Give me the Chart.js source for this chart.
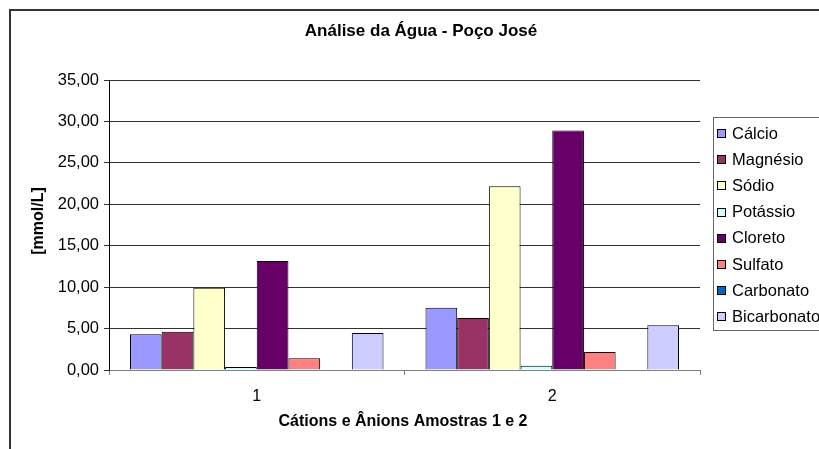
<!DOCTYPE html>
<html>
<head>
<meta charset="utf-8">
<title>Análise da Água - Poço José</title>
<script src="https://cdn.jsdelivr.net/npm/chart.js@4/dist/chart.umd.min.js"></script>
<style>
  html, body { margin: 0; padding: 0; background: #fff; overflow: hidden; }
  canvas { display: block; }
</style>
</head>
<body>
<canvas id="chart" width="819" height="449"></canvas>
<script>
// Amostras (categorias do eixo X)
const amostras = ['1', '2'];

// Íons e suas concentrações em mmol/L, por amostra
const ions = ['Cálcio', 'Magnésio', 'Sódio', 'Potássio', 'Cloreto', 'Sulfato', 'Carbonato', 'Bicarbonato'];
const calcio      = [4.31, 7.52];
const magnesio    = [4.63, 6.27];
const sodio       = [9.94, 22.17];
const potassio    = [0.36, 0.52];
const cloreto     = [13.15, 28.92];
const sulfato     = [1.41, 2.17];
const carbonato   = [0.00, 0.00];
const bicarbonato = [4.46, 5.39];

// Rótulos do eixo Y
const yTickLabels = ['0,00', '5,00', '10,00', '15,00', '20,00', '25,00', '30,00', '35,00'];

const tituloGrafico = 'Análise da Água - Poço José';
const tituloY = '[mmol/L]';
const tituloX = 'Cátions e Ânions Amostras 1 e 2';

const cores = ['#9999FF', '#993366', '#FFFFCC', '#CCFFFF', '#660066', '#FF8080', '#0066CC', '#CCCCFF'];
const series = [calcio, magnesio, sodio, potassio, cloreto, sulfato, carbonato, bicarbonato];

const FONT = '"Liberation Sans", Arial, sans-serif';

// Títulos, moldura e legenda desenhados sobre o canvas
const decoracao = {
  id: 'decoracao',
  afterDraw(chart) {
    const ctx = chart.ctx;
    ctx.save();

    // moldura do gráfico
    ctx.strokeStyle = '#333';
    ctx.lineWidth = 2;
    ctx.strokeRect(10, 10, 900, 500);

    ctx.fillStyle = '#000';
    ctx.textAlign = 'center';
    ctx.textBaseline = 'middle';

    ctx.font = 'bold 17px ' + FONT;
    ctx.fillText(tituloGrafico, 421, 31);

    ctx.font = 'bold 16px ' + FONT;
    ctx.fillText(tituloX, 403, 422);

    ctx.save();
    ctx.translate(39, 221);
    ctx.rotate(-Math.PI / 2);
    ctx.fillText(tituloY, 0, 0);
    ctx.restore();

    // legenda
    ctx.strokeStyle = '#666';
    ctx.lineWidth = 1;
    ctx.strokeRect(713.5, 117.5, 200, 213);
    ctx.font = '16.5px ' + FONT;
    ctx.textAlign = 'left';
    chart.data.datasets.forEach((ds, i) => {
      const cy = 133 + i * 26.2;
      ctx.fillStyle = ds.backgroundColor;
      ctx.fillRect(717.5, Math.round(cy) - 3.5, 8, 8);
      ctx.strokeStyle = '#000';
      ctx.strokeRect(717.5, Math.round(cy) - 3.5, 8, 8);
      ctx.fillStyle = '#000';
      ctx.fillText(ds.label, 732, cy + 1);
    });

    ctx.restore();
  }
};

new Chart(document.getElementById('chart'), {
  type: 'bar',
  data: {
    labels: amostras,
    datasets: ions.map((nome, i) => ({
      label: nome,
      data: series[i],
      backgroundColor: cores[i],
      borderColor: '#000',
      borderWidth: 1,
      categoryPercentage: 0.858,
      barPercentage: 1.0
    }))
  },
  options: {
    responsive: false,
    animation: false,
    devicePixelRatio: 1,
    layout: { padding: { left: 0, right: 119, top: 80, bottom: 0 } },
    plugins: {
      legend: { display: false },
      title: { display: false },
      tooltip: { enabled: false }
    },
    scales: {
      x: {
        afterFit(scale) { scale.height = 79; },
        grid: {
          offset: true,
          drawOnChartArea: false,
          drawTicks: true,
          tickLength: 5,
          color: '#808080'
        },
        border: { color: '#808080', width: 1 },
        ticks: {
          color: '#000',
          padding: 12,
          font: { family: FONT, size: 16 }
        }
      },
      y: {
        min: 0,
        max: 35,
        afterFit(scale) { scale.width = 109; },
        afterBuildTicks(scale) {
          scale.ticks = yTickLabels.map((_, i) => ({ value: i * 5 }));
        },
        grid: {
          color: '#303030',
          lineWidth: 1,
          tickLength: 5
        },
        border: { color: '#000', width: 1 },
        ticks: {
          color: '#000',
          padding: 5,
          font: { family: FONT, size: 16.5 },
          callback: (v, i) => yTickLabels[i]
        }
      }
    }
  },
  plugins: [decoracao]
});
</script>
</body>
</html>
